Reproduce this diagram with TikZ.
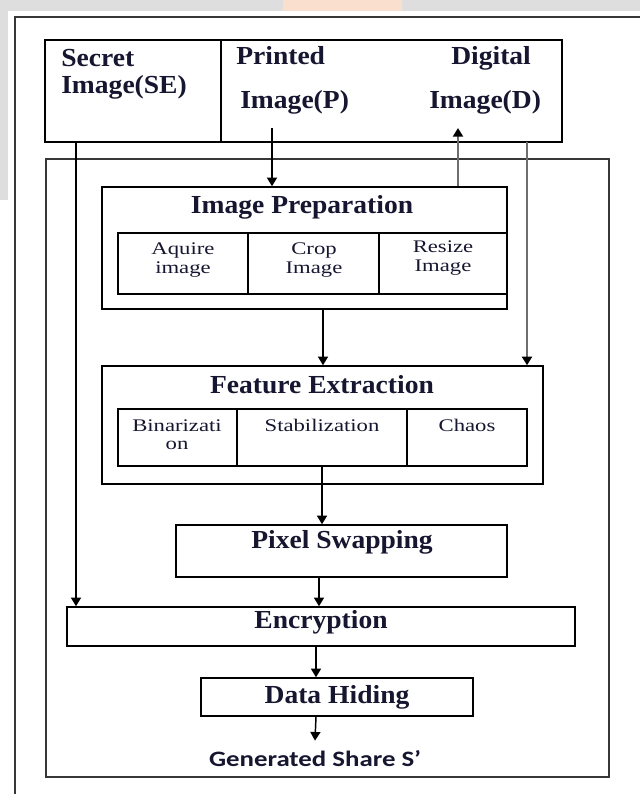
\documentclass[tikz,border=0pt]{standalone}
\usepackage{fontspec}
\setmainfont{Liberation Serif}
\newfontfamily\bigf[FakeStretch=1.06]{Liberation Serif}
\newfontfamily\smallf[FakeStretch=1.28]{Liberation Serif}
\newfontfamily\genf[FakeStretch=1.22]{Carlito}
\usetikzlibrary{arrows.meta,calc,fit}
\definecolor{txt}{RGB}{22,22,48}
\definecolor{wmgray}{RGB}{222,222,222}
\definecolor{wmpeach}{RGB}{250,222,206}
\definecolor{framegray}{RGB}{55,55,55}
\definecolor{linegray}{RGB}{110,110,110}
\begin{document}
\begin{tikzpicture}[x=0.75pt,y=-0.75pt,
  box/.style={draw=black,line width=1.1pt,inner sep=0pt},
  frame/.style={draw=framegray,line width=1.5pt,inner sep=0pt},
  big/.style={font={\bigf\bfseries\fontsize{19.5}{22}\selectfont},text=txt,inner sep=0pt},
  small/.style={font={\smallf\fontsize{13.3}{13.8}\selectfont},text=txt,align=center,inner sep=0pt},
  gen/.style={font={\genf\bfseries\fontsize{16.5}{18}\selectfont},text=txt,inner sep=0pt,outer ysep=7pt},
  arr/.style={-{Triangle[width=7.5pt,length=6.5pt]},line width=1.1pt,draw=black},
  arrg/.style={-{Triangle[width=7.5pt,length=6.5pt,color=black]},line width=1.6pt,draw=linegray}]
\useasboundingbox (0,0) rectangle (640,794);
% background and watermark bands
\fill[white] (0,0) rectangle (640,794);
\fill[wmgray] (0,0) rectangle (640,11);
\fill[wmpeach] (283,0) rectangle (402,11);
\fill[wmgray] (0,0) rectangle (8,200);
% outer frame (continues past the page)
\draw[frame] (15,794) -- (15,17) -- (640,17);
% top boxes
\node[box,fit={(45,40) (221,142)}] (se) {};
\node[box,fit={(221,40) (562,142)}] (pd) {};
\node[big,anchor=base west] (t1) at (61,66) {Secret};
\node[big,anchor=base west] (t2) at (61,93) {Image(SE)};
\node[big,anchor=base west] (t3) at (236,64) {Printed};
\node[big,anchor=base west] (t4) at (240,108) {Image(P)};
\node[big,anchor=base west] (t5) at (451,64) {Digital};
\node[big,anchor=base west] (t6) at (429,108) {Image(D)};
% inner frame
\node[frame,fit={(46,159) (609,777)}] (inner) {};
% image preparation
\node[box,fit={(102,187) (507,309)}] (ip) {};
\node[big,anchor=base] (ipt) at (302,213) {Image Preparation};
\node[box,fit={(118,233) (248,294)}] (aq) {};
\node[box,fit={(248,233) (379,294)}] (cr) {};
\node[box,fit={(379,233) (507,294)}] (rs) {};
\node[small] (aqt) at (183,260) {Aquire\\image};
\node[small] (crt) at (314,260) {Crop\\Image};
\node[small] (rst) at (443,258) {Resize\\Image};
% feature extraction
\node[box,fit={(102,366) (543,484)}] (fe) {};
\node[big,anchor=base] (fet) at (322,393) {Feature Extraction};
\node[box,fit={(118,409) (237,466)}] (bi) {};
\node[box,fit={(237,409) (407,466)}] (st) {};
\node[box,fit={(407,409) (527,466)}] (ch) {};
\node[small] (bit) at (177,435) {Binarizati\\on};
\node[small,anchor=base] (stt) at (322,431) {Stabilization};
\node[small,anchor=base] (cht) at (467,431) {Chaos};
% pixel swapping
\node[box,fit={(176,525) (507,577)}] (ps) {};
\node[big,anchor=base] (pst) at (342,548) {Pixel Swapping};
% encryption
\node[box,fit={(67,607) (575,646)}] (enc) {};
\node[big,anchor=base] (enct) at (321,628) {Encryption};
% data hiding
\node[box,fit={(201,678) (473,716)}] (dh) {};
\node[big,anchor=base] (dht) at (337,703) {Data Hiding};
% output
\node[gen,anchor=base] (gs) at (315,766) {Generated Share S’};
% connectors
\coordinate (seA) at (76,142);
\draw[arr] (seA) -- (seA |- enc.north);
\coordinate (pA) at (272,128);
\draw[arr] (pA) -- (pA |- ip.north);
\coordinate (dA) at (458,128);
\draw[arrg] (dA |- ip.north) -- (dA);
\coordinate (dB) at (527,142);
\draw[arrg] (dB) -- (dB |- fe.north);
\draw[arr] ($(ip.south)+(18.5,0)$) -- ($(fe.north)+(0.5,0)$);
\draw[arr] (st.south) -- (st.south |- ps.north);
\draw[arr] ($(ps.south)+(-22.5,0)$) -- ($(enc.north)+(-2,0)$);
\draw[arr] ($(enc.south)+(-5,0)$) -- ($(dh.north)+(-21,0)$);
\draw[arr] ($(dh.south)+(-21,0)$) -- (gs.north);
\end{tikzpicture}
\end{document}
